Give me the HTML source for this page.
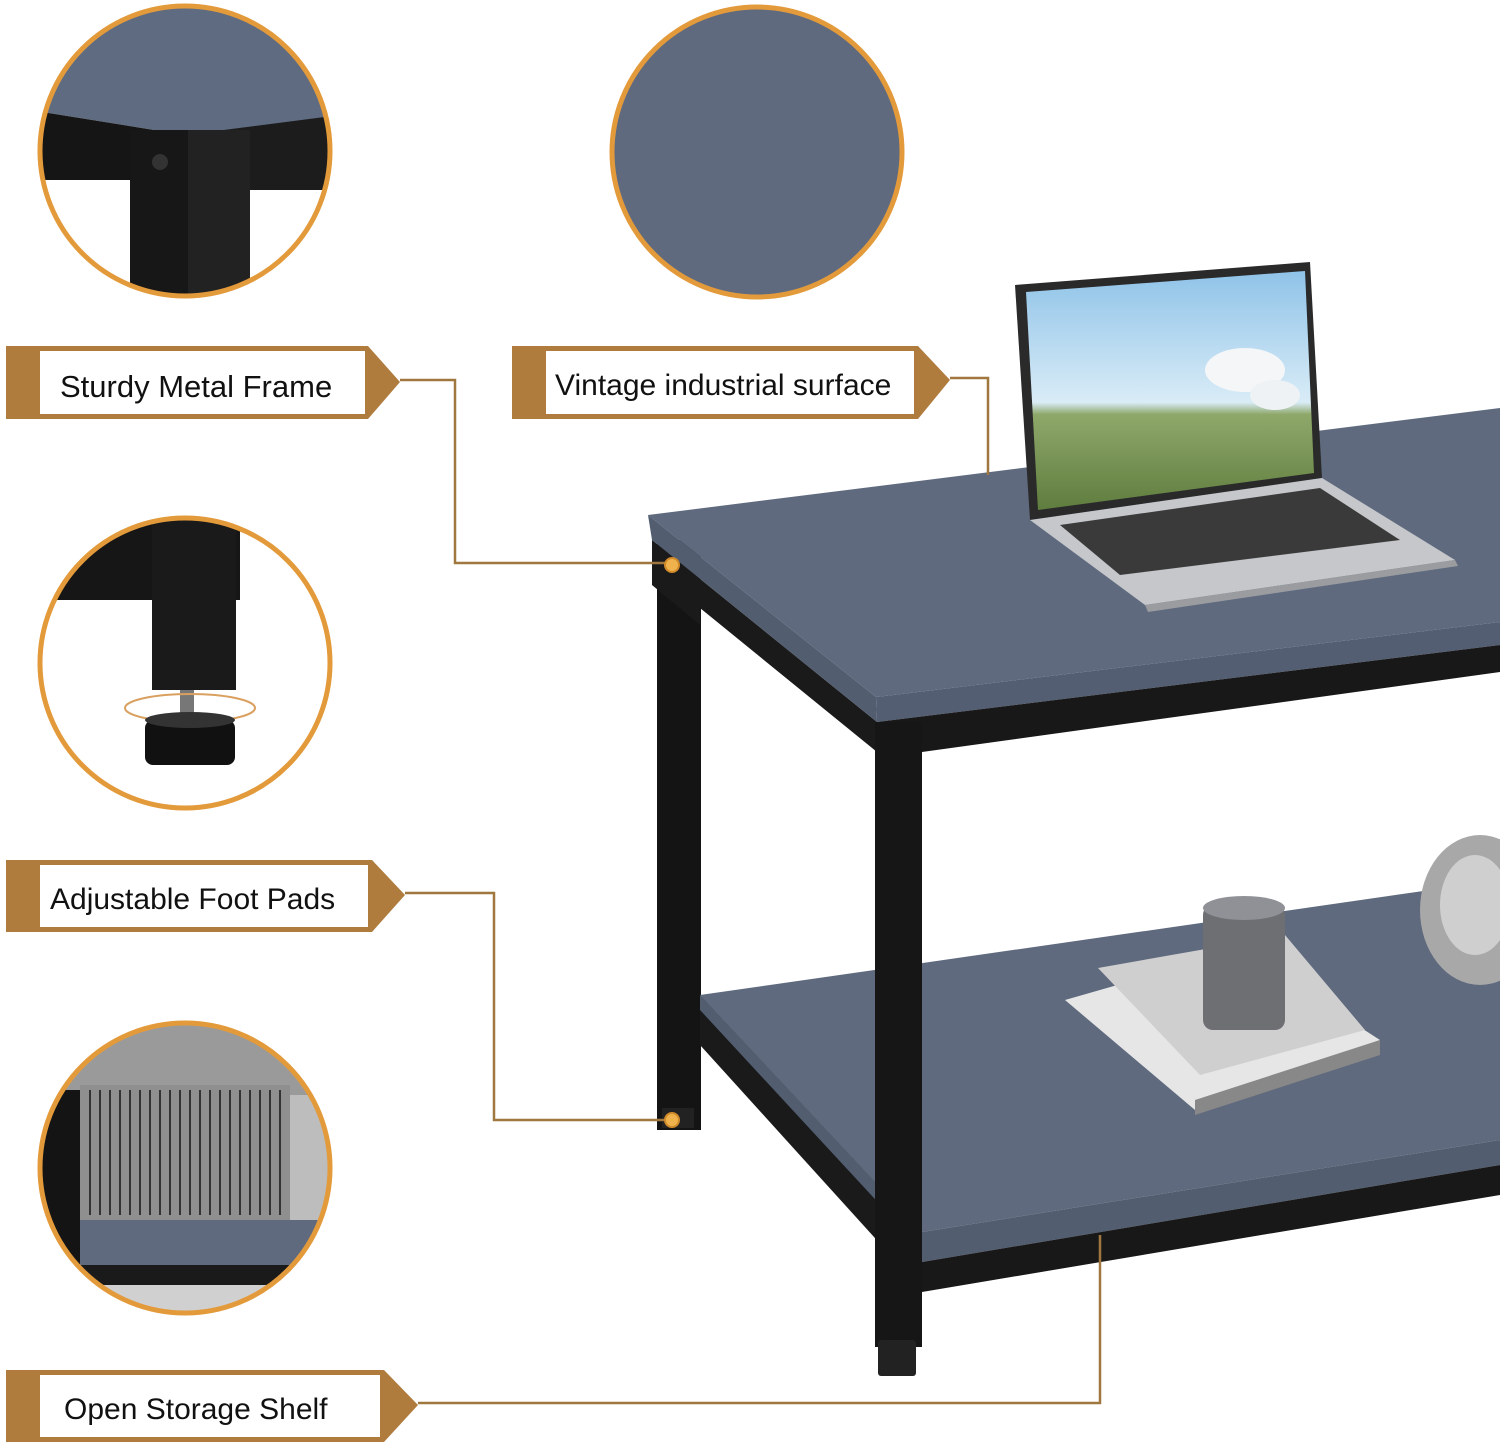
<!DOCTYPE html>
<html><head><meta charset="utf-8"><style>
html,body{margin:0;padding:0;background:#fff;}
svg{display:block}
text{font-family:"Liberation Sans","DejaVu Sans",sans-serif;fill:#111}
</style></head><body>
<svg width="1500" height="1447" viewBox="0 0 1500 1447" xmlns="http://www.w3.org/2000/svg">
<defs>
<clipPath id="c1"><circle cx="185" cy="151" r="145"/></clipPath>
<clipPath id="c3"><circle cx="185" cy="663" r="145"/></clipPath>
<clipPath id="c4"><circle cx="185" cy="1168" r="145"/></clipPath>
<linearGradient id="sky" x1="0" y1="0" x2="0" y2="1"><stop offset="0" stop-color="#8fc3e8"/><stop offset="0.55" stop-color="#d9ecf7"/><stop offset="0.6" stop-color="#8ea86a"/><stop offset="1" stop-color="#5f7d3e"/></linearGradient>
</defs>

<g clip-path="url(#c1)">
<rect x="30" y="0" width="310" height="310" fill="#fff"/>
<polygon points="30,0 340,0 340,120 185,135 30,110" fill="#5f6b80"/>
<polygon points="30,110 185,135 185,180 30,180" fill="#151515"/>
<polygon points="185,135 340,115 340,190 185,190" fill="#1c1c1c"/>
<rect x="130" y="130" width="120" height="180" fill="#171717"/>
<rect x="188" y="130" width="62" height="180" fill="#222"/>
<circle cx="160" cy="162" r="8" fill="#333"/>
</g>
<circle cx="185" cy="151" r="145" fill="none" stroke="#e39a3b" stroke-width="5"/>

<circle cx="757" cy="152" r="145" fill="#5f6a7e"/>
<circle cx="757" cy="152" r="145" fill="none" stroke="#e39a3b" stroke-width="5"/>

<g clip-path="url(#c3)">
<rect x="30" y="510" width="310" height="310" fill="#fff"/>
<polygon points="30,510 240,510 240,600 30,600" fill="#161616"/>
<rect x="152" y="515" width="84" height="175" fill="#1a1a1a"/>
<rect x="180" y="690" width="14" height="30" fill="#777"/>
<ellipse cx="190" cy="708" rx="65" ry="14" fill="none" stroke="#d9a060" stroke-width="2"/>
<rect x="145" y="720" width="90" height="45" rx="8" fill="#111"/>
<ellipse cx="190" cy="720" rx="45" ry="8" fill="#333"/>
</g>
<circle cx="185" cy="663" r="145" fill="none" stroke="#e39a3b" stroke-width="5"/>

<g clip-path="url(#c4)">
<rect x="30" y="1015" width="310" height="310" fill="#bdbdbd"/>
<rect x="30" y="1015" width="310" height="80" fill="#9a9a9a"/>
<rect x="30" y="1090" width="50" height="200" fill="#141414"/>
<rect x="80" y="1085" width="210" height="135" fill="#8f8f8f"/>
<g stroke="#333" stroke-width="2">
<line x1="90" y1="1090" x2="90" y2="1215"/><line x1="100" y1="1090" x2="100" y2="1215"/><line x1="110" y1="1090" x2="110" y2="1215"/><line x1="120" y1="1090" x2="120" y2="1215"/><line x1="130" y1="1090" x2="130" y2="1215"/><line x1="140" y1="1090" x2="140" y2="1215"/><line x1="150" y1="1090" x2="150" y2="1215"/><line x1="160" y1="1090" x2="160" y2="1215"/><line x1="170" y1="1090" x2="170" y2="1215"/><line x1="180" y1="1090" x2="180" y2="1215"/><line x1="190" y1="1090" x2="190" y2="1215"/><line x1="200" y1="1090" x2="200" y2="1215"/><line x1="210" y1="1090" x2="210" y2="1215"/><line x1="220" y1="1090" x2="220" y2="1215"/><line x1="230" y1="1090" x2="230" y2="1215"/><line x1="240" y1="1090" x2="240" y2="1215"/><line x1="250" y1="1090" x2="250" y2="1215"/><line x1="260" y1="1090" x2="260" y2="1215"/><line x1="270" y1="1090" x2="270" y2="1215"/><line x1="280" y1="1090" x2="280" y2="1215"/>
</g>
<rect x="80" y="1220" width="260" height="45" fill="#5f6a7e"/>
<rect x="30" y="1265" width="310" height="20" fill="#1a1a1a"/>
<rect x="30" y="1285" width="310" height="40" fill="#d0d0d0"/>
</g>
<circle cx="185" cy="1168" r="145" fill="none" stroke="#e39a3b" stroke-width="5"/>

<!-- table -->
<rect x="657" y="540" width="44" height="590" fill="#141414"/>
<rect x="662" y="1108" width="32" height="20" fill="#222"/>
<polygon points="652,540 877,722 877,752 700,608 700,625 652,585" fill="#1a1a1a"/>
<!-- bottom shelf -->
<polygon points="700,995 1500,880 1500,1140 922,1232" fill="#5f6a7e"/>
<polygon points="700,995 922,1232 922,1290 700,1045" fill="#1a1a1a"/>
<polygon points="700,995 922,1232 922,1250 700,1010" fill="#525d70"/>
<polygon points="922,1232 1500,1140 1500,1165 922,1262" fill="#525d70"/>
<polygon points="922,1262 1500,1165 1500,1195 922,1292" fill="#181818"/>
<!-- tabletop -->
<polygon points="648,515 1500,408 1500,622 876,697" fill="#5f6a7e"/>
<polygon points="648,515 876,697 877,722 652,540" fill="#525d70"/>
<polygon points="876,697 1500,622 1500,645 877,722" fill="#535e72"/>
<polygon points="877,722 1500,645 1500,672 922,752 877,752" fill="#181818"/>
<rect x="875" y="722" width="47" height="625" fill="#161616"/>
<rect x="878" y="1340" width="38" height="36" rx="3" fill="#222"/>

<!-- laptop -->
<polygon points="1015,285 1310,262 1322,478 1030,520" fill="#2a2a2a"/>
<polygon points="1026,292 1305,271 1314,473 1038,510" fill="url(#sky)"/>
<ellipse cx="1245" cy="370" rx="40" ry="22" fill="#f4f6f8"/>
<ellipse cx="1275" cy="395" rx="25" ry="15" fill="#eef2f5"/>
<polygon points="1030,520 1322,478 1455,560 1145,605" fill="#c5c7ca"/>
<polygon points="1060,525 1320,488 1400,540 1120,575" fill="#3a3a3a"/>
<polygon points="1145,605 1455,560 1458,566 1148,612" fill="#9a9ca0"/>

<polygon points="1065,1000 1240,950 1380,1040 1195,1110" fill="#e6e6e6"/>
<polygon points="1098,968 1285,935 1365,1030 1200,1075" fill="#cfcfcf"/>
<polygon points="1195,1100 1380,1040 1380,1055 1195,1115" fill="#888"/>
<rect x="1203" y="905" width="82" height="125" rx="10" fill="#6d6f73"/>
<ellipse cx="1244" cy="908" rx="41" ry="12" fill="#8f9196"/>
<ellipse cx="1480" cy="910" rx="60" ry="75" fill="#a8a8a8"/>
<ellipse cx="1475" cy="905" rx="35" ry="50" fill="#cfcfcf"/>

<g fill="none" stroke="#a0783f" stroke-width="2.5">
<polyline points="400,380 455,380 455,563 668,563"/>
<polyline points="950,378 988,378 988,475"/>
<polyline points="405,893 494,893 494,1120 668,1120"/>
<polyline points="418,1403 1100,1403 1100,1235"/>
</g>
<circle cx="672" cy="565" r="7" fill="#f0b24c" stroke="#d08a2a" stroke-width="2"/>
<circle cx="672" cy="1120" r="7" fill="#f0b24c" stroke="#d08a2a" stroke-width="2"/>

<g>
<polygon points="6,346 368,346 400,382 368,419 6,419" fill="#b07c3e"/>
<rect x="40" y="351" width="325" height="63" fill="#fff"/>
<text x="60" y="397" font-size="31">Sturdy Metal Frame</text>

<polygon points="512,346 918,346 950,380 918,419 512,419" fill="#b07c3e"/>
<rect x="546" y="351" width="368" height="63" fill="#fff"/>
<text x="555" y="395" font-size="30">Vintage industrial surface</text>

<polygon points="6,860 372,860 405,895 372,932 6,932" fill="#b07c3e"/>
<rect x="40" y="865" width="328" height="62" fill="#fff"/>
<text x="50" y="909" font-size="30">Adjustable Foot Pads</text>

<polygon points="6,1370 384,1370 418,1405 384,1442 6,1442" fill="#b07c3e"/>
<rect x="40" y="1375" width="340" height="62" fill="#fff"/>
<text x="64" y="1419" font-size="30">Open Storage Shelf</text>
</g>
</svg>
</body></html>
